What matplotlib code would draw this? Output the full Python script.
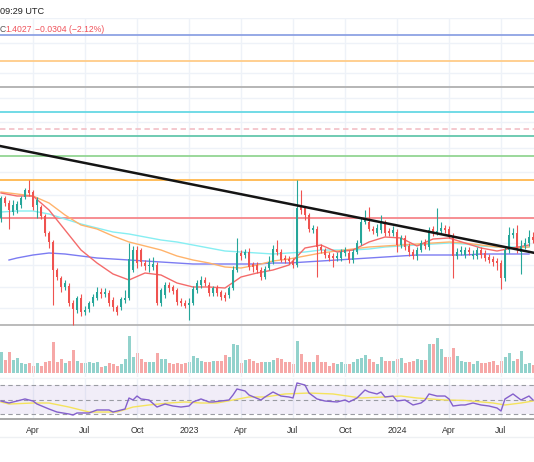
import numpy as np
import pandas as pd
import matplotlib
matplotlib.use("Agg")
import matplotlib.pyplot as plt
from matplotlib.lines import Line2D

# weekly candles from Feb 2022 to Aug 2024
start = "2022-02-07"
opens = [1.62,1.82,1.77,1.68,1.70,1.75,1.83,1.90,1.88,1.75,1.73,1.64,1.47,1.38,1.10,1.02,0.93,0.94,0.77,0.70,
         0.82,0.68,0.71,0.77,0.82,0.88,0.86,0.87,0.80,0.73,0.73,0.80,0.82,1.10,1.30,1.30,1.17,1.14,1.13,1.15,
         0.77,0.85,0.95,0.93,0.90,0.79,0.77,0.75,0.77,0.90,0.95,1.00,0.95,0.87,0.92,0.88,0.85,0.85,0.92,1.10,
         1.27,1.25,1.28,1.16,1.15,1.10,1.03,1.12,1.18,1.31,1.28,1.22,1.21,1.19,1.15,1.73,1.72,1.65,1.50,1.51,
         1.33,1.30,1.25,1.24,1.22,1.22,1.27,1.27,1.20,1.28,1.37,1.58,1.58,1.51,1.47,1.50,1.57,1.49,1.47,1.48,
         1.35,1.42,1.34,1.28,1.24,1.30,1.38,1.33,1.51,1.47,1.49,1.52,1.51,1.44,1.24,1.28,1.25,1.30,1.24,1.24,
         1.30,1.27,1.23,1.21,1.19,1.17,1.02,1.30,1.45,1.47,1.28,1.34,1.37,1.4331]
closes = [1.82,1.77,1.70,1.75,1.76,1.82,1.90,1.87,1.73,1.80,1.64,1.47,1.38,1.10,1.03,0.93,0.97,0.77,0.71,0.82,
          0.68,0.70,0.77,0.83,0.88,0.86,0.88,0.77,0.73,0.68,0.81,0.82,1.21,1.30,1.17,1.18,1.14,1.15,1.16,0.77,
          0.90,0.95,0.92,0.89,0.78,0.77,0.74,0.77,0.91,0.97,1.00,0.97,0.87,0.92,0.87,0.83,0.82,0.92,1.10,1.27,
          1.24,1.28,1.13,1.13,1.10,1.03,1.11,1.18,1.31,1.28,1.20,1.20,1.19,1.15,1.72,1.70,1.65,1.51,1.52,1.33,
          1.30,1.25,1.22,1.22,1.24,1.28,1.30,1.20,1.28,1.37,1.58,1.60,1.51,1.49,1.52,1.57,1.47,1.47,1.50,1.35,
          1.42,1.33,1.28,1.24,1.30,1.37,1.34,1.50,1.47,1.49,1.52,1.50,1.45,1.24,1.28,1.30,1.30,1.28,1.26,1.30,
          1.25,1.22,1.20,1.18,1.17,1.02,1.30,1.45,1.47,1.30,1.34,1.37,1.4331,1.4027]
highs = [1.84,1.84,1.80,1.80,1.79,1.84,1.92,2.00,1.90,1.83,1.75,1.66,1.49,1.40,1.12,1.04,1.00,0.97,0.80,0.84,
         0.86,0.74,0.79,0.86,0.93,0.92,0.92,0.90,0.83,0.75,0.83,0.90,1.37,1.34,1.34,1.32,1.20,1.22,1.23,1.18,
         0.92,0.98,0.98,0.95,0.92,0.82,0.80,0.82,0.94,1.00,1.04,1.03,0.98,0.94,0.95,0.90,0.88,0.94,1.14,1.42,
         1.30,1.31,1.32,1.18,1.18,1.13,1.14,1.24,1.35,1.40,1.31,1.25,1.24,1.22,2.00,1.90,1.74,1.67,1.55,1.54,
         1.36,1.32,1.28,1.27,1.28,1.31,1.33,1.30,1.31,1.40,1.62,1.70,1.73,1.54,1.56,1.65,1.60,1.52,1.54,1.51,
         1.45,1.45,1.37,1.31,1.33,1.40,1.41,1.53,1.54,1.72,1.58,1.55,1.54,1.47,1.32,1.34,1.33,1.33,1.30,1.33,
         1.33,1.30,1.26,1.24,1.22,1.20,1.33,1.53,1.52,1.55,1.40,1.42,1.50,1.48]
lows = [1.58,1.74,1.51,1.65,1.67,1.72,1.81,1.84,1.70,1.62,1.61,1.44,1.32,0.75,1.00,0.88,0.90,0.74,0.55,0.67,
        0.64,0.65,0.68,0.74,0.80,0.82,0.83,0.74,0.69,0.65,0.70,0.77,0.80,1.08,1.12,1.14,1.10,1.08,1.10,0.75,
        0.74,0.82,0.88,0.86,0.75,0.74,0.72,0.60,0.75,0.87,0.92,0.94,0.84,0.84,0.84,0.80,0.79,0.82,0.90,1.08,
        1.20,1.22,1.10,1.08,1.07,1.00,1.01,1.10,1.16,1.25,1.18,1.17,1.16,1.12,1.13,1.66,1.60,1.48,1.47,1.03,
        1.27,1.22,1.19,1.13,1.19,1.19,1.24,1.17,1.17,1.26,1.35,1.56,1.49,1.46,1.44,1.47,1.44,1.44,1.44,1.28,
        1.32,1.30,1.24,1.21,1.20,1.28,1.31,1.30,1.44,1.45,1.46,1.47,1.42,1.02,1.21,1.25,1.22,1.25,1.21,1.21,
        1.22,1.19,1.17,1.14,1.10,0.91,0.99,1.27,1.42,1.27,1.06,1.31,1.34,1.37]
volumes = [21,13,21,13,15,10,9,10,7,10,7,11,12,31,11,14,10,12,23,12,
           10,10,11,10,11,6,7,10,9,7,9,14,37,16,20,14,11,11,11,20,
           14,14,10,9,10,9,10,11,17,15,12,11,11,12,12,12,18,16,29,28,
           10,13,14,12,10,11,11,11,13,15,14,11,11,9,32,19,11,11,11,18,
           11,11,7,10,9,11,9,9,11,14,15,18,14,11,9,16,12,12,12,14,
           15,10,11,12,14,13,13,29,29,35,24,16,16,25,17,12,11,11,9,12,
           10,10,11,12,8,12,16,20,12,14,22,9,10,8]

# moving averages read every 4th week
ma_idx = list(range(0, 134, 4))
ma_fast = [1.87,1.84,1.84,1.70,1.50,1.30,1.17,1.06,1.00,1.07,1.05,0.97,0.93,0.93,0.92,1.03,1.07,
           1.10,1.15,1.32,1.35,1.28,1.30,1.38,1.43,1.42,1.34,1.41,1.42,1.37,1.32,1.29,1.32,1.35]
ma_mid = [1.88,1.86,1.84,1.77,1.65,1.55,1.51,1.44,1.38,1.34,1.30,1.24,1.20,1.17,1.13,1.12,1.15,
          1.19,1.21,1.24,1.27,1.29,1.31,1.33,1.34,1.35,1.36,1.37,1.38,1.37,1.35,1.33,1.32,1.33]
ma_slow = [1.68,1.69,1.69,1.66,1.61,1.56,1.52,1.48,1.46,1.43,1.40,1.38,1.35,1.32,1.29,1.28,1.27,
           1.26,1.27,1.28,1.30,1.30,1.30,1.31,1.33,1.34,1.35,1.36,1.37,1.36,1.34,1.33,1.33,1.33]
ma_long_idx = [2] + list(range(4, 134, 4))
ma_long = [1.20,1.22,1.25,1.27,1.26,1.24,1.22,1.21,1.20,1.19,1.18,1.17,1.16,1.16,1.16,1.16,1.16,
           1.17,1.17,1.18,1.19,1.20,1.21,1.22,1.23,1.24,1.25,1.25,1.25,1.25,1.26,1.26,1.26,1.26]

levels = [3.45, 3.19, 2.93, 2.68, 2.51, 2.44, 2.24, 2.00, 1.62, 0.55]
level_colors = ["#8ea2e4", "#ffcc88", "#b0b0b0", "#66d8e4", "#f3c4ca", "#63c7ad", "#93d693", "#ffb74d", "#f7868a", "#b5b5b5"]
level_styles = ["-", "-", "-", "-", (0, (3, 2)), "-", "-", "-", "-", "-"]
trend = [(0, 2.338), (133, 1.274)]

rsi_idx = [0,2,4,6,8,9,12,14,17,18,19,22,24,27,28,31,32,33,34,35,37,39,41,43,45,47,48,50,52,53,
           57,58,59,61,62,65,66,68,70,72,73,74,76,77,79,81,84,86,87,89,91,92,94,95,96,98,99,101,103,105,
           106,107,109,111,112,113,115,116,118,120,122,124,125,126,128,130,131,132,133]
rsi_val = [48.2,45.5,48.2,51.0,48.2,44.1,37.3,33.2,30.5,29.1,31.9,31.9,36.0,36.0,33.2,37.3,52.3,49.6,55.0,51.0,
           49.6,40.0,44.1,41.4,40.0,41.4,46.9,51.0,46.9,46.9,49.6,56.4,64.6,61.9,56.4,49.6,53.7,60.5,55.0,53.7,
           52.3,72.8,70.0,59.1,51.0,48.2,46.9,49.6,46.9,52.3,63.2,60.5,57.8,60.5,53.7,55.0,48.2,49.6,42.8,45.5,
           49.6,57.8,55.0,55.0,51.0,41.4,42.8,42.8,45.5,42.8,41.4,38.7,34.6,51.0,57.8,49.6,52.3,55.0,49.6]
rsi_ma_idx = [0,2,8,12,17,22,25,29,33,37,42,46,50,54,58,62,66,71,77,83,90,96,100,104,111,116,123,126,130,133]
rsi_ma_val = [46.9,44.1,45.5,45.5,40.0,33.2,33.2,33.2,40.0,42.8,45.5,46.9,45.5,45.5,49.6,53.7,53.7,57.8,59.1,57.8,
              52.3,53.7,55.0,52.3,49.6,49.0,45.5,42.8,45.5,48.2]

UP = "#26a69a"
DOWN = "#ef5350"
GRID = "#eef2f8"
FONT = "Liberation Sans"

W, H = 534, 462
fig = plt.figure(figsize=(W / 100, H / 100), dpi=100)
fig.patch.set_facecolor("white")


def box(top, bottom):
    return [0, 1 - bottom / H, 1, (bottom - top) / H]


ax = fig.add_axes(box(18, 377))
axv = ax.twinx()
axr = fig.add_axes(box(379, 419))

dates = pd.date_range(start, periods=len(opens), freq="W-MON")
x = np.arange(len(opens))
o = np.array(opens); c = np.array(closes)
up = c >= o
cols = np.where(up, UP, DOWN)

# month ticks at first bar of each quarter
ticks, labels = [], []
for i in range(1, len(dates)):
    if dates[i].month != dates[i - 1].month and dates[i].month in (1, 4, 7, 10):
        ticks.append(i)
        labels.append(str(dates[i].year) if dates[i].month == 1 else dates[i].strftime("%b"))

grid_prices = [3.62, 3.37, 3.07, 2.82, 2.58, 2.32, 2.08, 1.85, 1.62, 1.37, 1.15, 0.93, 0.72]
for gp in grid_prices:
    ax.axhline(gp, color=GRID, lw=1, zorder=0)
for t in ticks:
    ax.axvline(t, color=GRID, lw=1, zorder=0)
    axr.axvline(t, color=GRID, lw=1, zorder=0)

for lv, lc, ls in zip(levels, level_colors, level_styles):
    ax.axhline(lv, color=lc, lw=1.3, ls=ls, zorder=1)

# volume
axv.bar(x, volumes, width=0.75, color=cols, alpha=0.5, zorder=1)
axv.set_ylim(-4, 355)
axv.axis("off")

ax.plot(ma_long_idx, ma_long, color="#7b7bf2", lw=1, zorder=2)
ax.plot(ma_idx, ma_slow, color="#86eef2", lw=1, zorder=2)
ax.plot(ma_idx, ma_mid, color="#ffb36b", lw=1, zorder=2)
ax.plot(ma_idx, ma_fast, color="#f46b6b", lw=1, zorder=2)

# candles
ax.vlines(x, lows, highs, colors=cols, lw=0.8, zorder=3)
body = np.maximum(np.abs(c - o), 0.012)
ax.bar(x, body, bottom=np.minimum(o, c), width=0.62, color=cols, zorder=4)

ax.axline(trend[0], trend[1], color="#141414", lw=1.8, zorder=5)

ax.set_xlim(-0.25, 133.25)
ax.set_ylim(0.03, 3.62)
ax.axis("off")
ax.set_zorder(axv.get_zorder() + 1)
ax.patch.set_visible(False)

# RSI pane
axr.axhspan(30, 70, color="#7e57c2", alpha=0.1, lw=0, zorder=0)
for lvl in (70, 50, 30):
    axr.axhline(lvl, color="#9a9ca3", lw=0.8, ls=(0, (4, 3)), zorder=1)
axr.plot(rsi_ma_idx, rsi_ma_val, color="#f5e35c", lw=1, zorder=2)
axr.plot(rsi_idx, rsi_val, color="#8460cc", lw=1, zorder=3)
axr.set_xlim(-0.25, 133.25)
axr.set_ylim(23.7, 78.2)
for s in ("top", "left", "right"):
    axr.spines[s].set_visible(False)
axr.spines["bottom"].set_color("#9a9a9a")
axr.spines["bottom"].set_linewidth(1.2)
axr.set_yticks([])
axr.set_xticks(ticks)
axr.set_xticklabels(labels, fontsize=6.3, color="#333333", family=FONT)
axr.tick_params(axis="x", length=0, pad=5)

fig.add_artist(Line2D([0, 1], [1 - 437 / H] * 2, color="#eef0f3", lw=1))
fig.add_artist(Line2D([0, 1], [1 - 378 / H] * 2, color="#f0f2f6", lw=1))

fig.text(0, 1 - 11 / H, "09:29 UTC", fontsize=6.6, color="#222222", va="center", family=FONT)
fig.text(-0.5 / W, 1 - 29 / H, "C", fontsize=6.2, color="#555555", va="center", family=FONT)
fig.text(5.5 / W, 1 - 29 / H, "1.4027", fontsize=6.2, color="#f0525a", va="center", family=FONT)
fig.text(35 / W, 1 - 29 / H, "\u22120.0304 (\u22122.12%)", fontsize=6.2, color="#f0525a", va="center", family=FONT)

fig.savefig("out.png", dpi=100)
